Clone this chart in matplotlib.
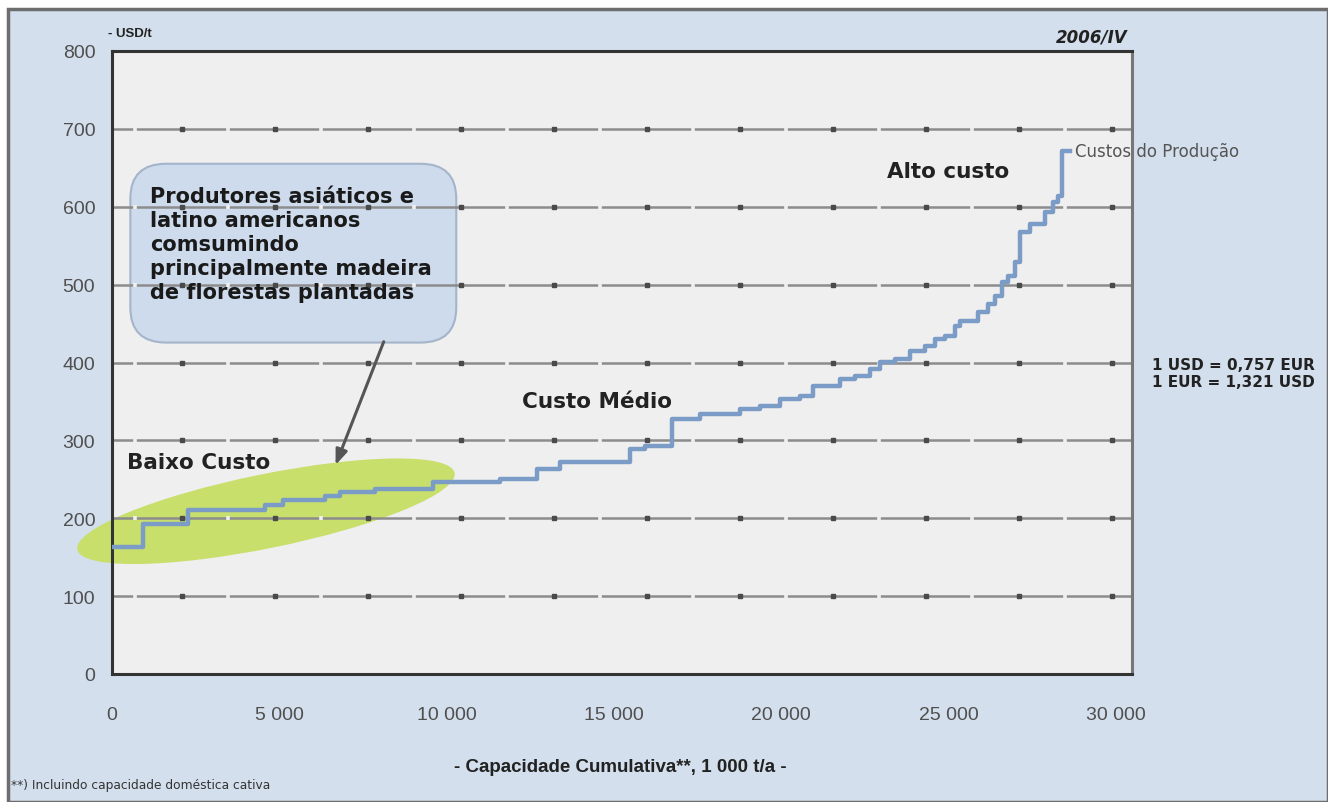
import matplotlib
matplotlib.use("Agg")
import matplotlib.pyplot as plt
from matplotlib.patches import Ellipse, FancyBboxPatch, Rectangle
from matplotlib.transforms import ScaledTranslation
from matplotlib.ticker import FixedLocator, FuncFormatter

plt.rcParams['font.family'] = ['Liberation Sans', 'DejaVu Sans']
WIDE = ['DejaVu Sans']

# Cumulative capacity (1 000 t/a) where each cost step begins, and its cost (USD/t)
capacity = [0, 926, 2271, 4572, 5110, 6364, 6813, 7858, 9592, 11593, 12699,
            13386, 15478, 15926, 16733, 17570, 18765, 19362, 19960, 20557,
            20946, 21753, 22201, 22649, 22948, 23396, 23844, 24293, 24591,
            24890, 25189, 25338, 25876, 26175, 26384, 26593, 26773, 26982,
            27131, 27430, 27878, 28117, 28267, 28386, 28625]
cost = [163, 193, 210, 217, 223, 228, 234, 237, 246, 250, 263,
        272, 289, 293, 327, 334, 340, 344, 353, 357,
        370, 379, 383, 392, 401, 404, 415, 421, 430,
        434, 447, 453, 465, 475, 485, 503, 511, 529,
        567, 578, 593, 606, 614, 671, 671]

x_ticks = [0, 5000, 10000, 15000, 20000, 25000, 30000]
y_ticks = [0, 100, 200, 300, 400, 500, 600, 700, 800]

fig = plt.figure(figsize=(13.28, 8.03), dpi=100)
fig.patch.set_facecolor('white')

# framed light-blue panel behind the chart
fig.patches.append(Rectangle((8 / 1328, 0), 1 - 8 / 1328, 1 - 10 / 803,
                             transform=fig.transFigure, facecolor='#d3dfec',
                             edgecolor='#6e6e6e', linewidth=2.5, zorder=-10))

ax = fig.add_axes([112 / 1328, 128 / 803, 1020 / 1328, 623 / 803])
ax.set_zorder(1)
ax.set_facecolor('#efefef')
ax.set_xlim(0, 30480)
ax.set_ylim(0, 800)

# horizontal grid: long segments split by narrow gaps, a small dot in each segment
grid_period = 2780
gap_x = [687 + i * grid_period for i in range(11)]
dot_x = [2077 + i * grid_period for i in range(11)]
for yv in y_ticks[1:-1]:
    ax.axhline(yv, color='#8c8c8c', linewidth=1.8, zorder=1)
    ax.plot(gap_x, [yv] * len(gap_x), linestyle='none', marker='|',
            markersize=3.5, markeredgewidth=2.6, color='#efefef', zorder=1.05)
    ax.plot(dot_x, [yv] * len(dot_x), linestyle='none', marker='s',
            markersize=2.3, color='#4a4a4a', zorder=1.1)

ax.xaxis.set_major_locator(FixedLocator(x_ticks))
ax.yaxis.set_major_locator(FixedLocator(y_ticks))
ax.xaxis.set_major_formatter(FuncFormatter(lambda v, p: f"{int(v):,}".replace(',', ' ')))
ax.tick_params(axis='both', length=0, labelsize=14, labelcolor='#4f4f4f')
ax.tick_params(axis='x', pad=23)
ax.tick_params(axis='y', pad=12)

for side in ['left', 'bottom', 'top']:
    ax.spines[side].set_color('#333333')
    ax.spines[side].set_linewidth(2.2)
ax.spines['right'].set_color('#777777')
ax.spines['right'].set_linewidth(2.2)

# low-cost region highlight
ell_tr = fig.dpi_scale_trans + ScaledTranslation(4600, 209, ax.transData)
ax.add_patch(Ellipse((0, 0), 3.85, 0.74, angle=11.5, transform=ell_tr,
                     facecolor='#c8df6c', edgecolor='none',
                     clip_on=False, zorder=0.6))

# cost curve
ax.step(capacity, cost, where='post', color='#7c9cc8', linewidth=3.2, zorder=3)

ax.text(capacity[-1] + 150, cost[-1], 'Custos do Produção', fontsize=12,
        family=WIDE, color='#555555', va='center', ha='left', clip_on=False, zorder=4)

# callout box and arrow
box = FancyBboxPatch((0.018, 0.532), 0.3195, 0.287, boxstyle='round,pad=0,rounding_size=0.035',
                     transform=ax.transAxes, facecolor='#cddbec', edgecolor='#a4b4ca',
                     linewidth=1.5, zorder=0.5, mutation_aspect=1.6)
ax.add_patch(box)
callout = ('Produtores asiáticos e\nlatino americanos\ncomsumindo\n'
           'principalmente madeira\nde florestas plantadas')
ax.text(0.037, 0.784, callout, transform=ax.transAxes, fontsize=15, fontweight='bold',
        family=WIDE, color='#1a1a1a', va='top', ha='left', linespacing=1.25, zorder=5)
ax.annotate('', xy=(6650, 265), xytext=(8150, 430),
            arrowprops=dict(arrowstyle='-|>,head_length=0.9,head_width=0.35',
                            color='#555555', linewidth=2.2), zorder=5)

ax.text(450, 272, 'Baixo Custo', fontsize=15.5, fontweight='bold', family=WIDE,
        color='#222222', va='center', ha='left', zorder=5)
ax.text(12250, 351, 'Custo Médio', fontsize=15.5, fontweight='bold', family=WIDE,
        color='#222222', va='center', ha='left', zorder=5)
ax.text(23150, 646, 'Alto custo', fontsize=15.5, fontweight='bold', family=WIDE,
        color='#222222', va='center', ha='left', zorder=5)

# headers, conversion rates, axis title and footnote
fig.text(108 / 1328, 1 - 34 / 803, '- USD/t', fontsize=9.5, fontweight='bold',
         color='#222222', va='center', ha='left')
fig.text(1128 / 1328, 1 - 38 / 803, '2006/IV', fontsize=12, fontweight='bold',
         fontstyle='italic', family=WIDE, color='#222222', va='center', ha='right')
fig.text(1152 / 1328, 1 - 366 / 803, '1 USD = 0,757 EUR', fontsize=11,
         fontweight='bold', family=WIDE, color='#222222', va='center', ha='left')
fig.text(1152 / 1328, 1 - 383 / 803, '1 EUR = 1,321 USD', fontsize=11,
         fontweight='bold', family=WIDE, color='#222222', va='center', ha='left')
fig.text(620 / 1328, 1 - 768 / 803, '- Capacidade Cumulativa**, 1 000 t/a -',
         fontsize=13.5, fontweight='bold', color='#222222', va='center', ha='center')
fig.text(11 / 1328, 1 - 786 / 803, '**) Incluindo capacidade doméstica cativa',
         fontsize=8.8, family=WIDE, color='#333333', va='center', ha='left')

fig.savefig('out.png', dpi=100, facecolor=fig.get_facecolor())
